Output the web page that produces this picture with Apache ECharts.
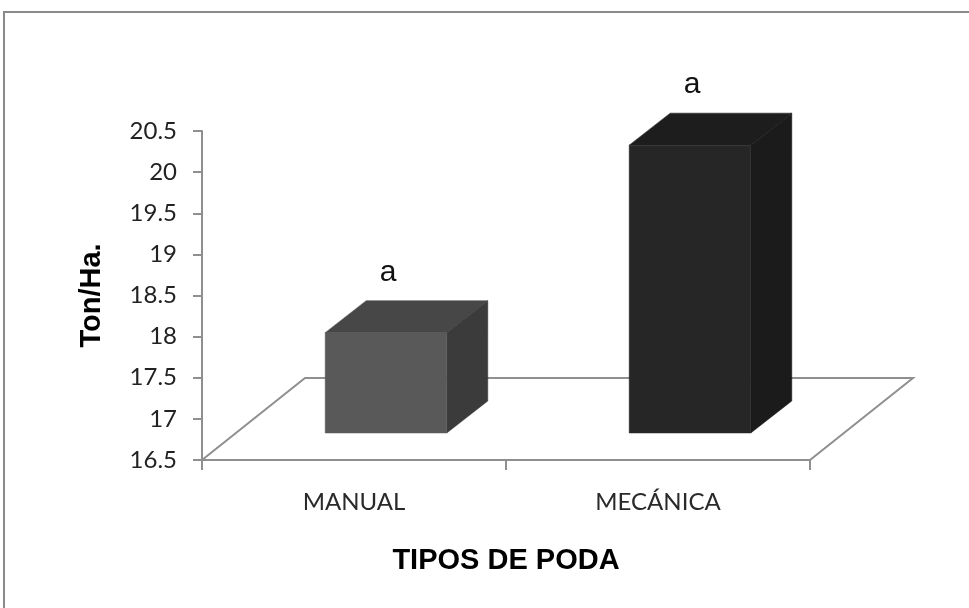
<!DOCTYPE html>
<html>
<head>
<meta charset="utf-8">
<script src="https://cdn.jsdelivr.net/npm/echarts@6/dist/echarts.min.js"></script>
<style>
html,body{margin:0;padding:0;background:#fff;}
#c{width:969px;height:608px;}
</style>
</head>
<body>
<div id="c"></div>
<script>
// ---- data ----
var categories = ['MANUAL', 'MECÁNICA'];
var values = [17.72, 20.0];
var barLabels = ['a', 'a'];
var yMin = 16.5, yMax = 20.5, yStep = 0.5;
var xTitle = 'TIPOS DE PODA';
var yTitle = 'Ton/Ha.';

// ---- styles ----
var frontColors = ['#595959', '#262626'];
var topColors = ['#474747', '#1d1d1d'];
var sideColors = ['#3b3b3b', '#1b1b1b'];
var floorDepth = [103, -82];   // pixel offset of floor depth
var barFront = [32, -27];      // front face offset inside floor
var barDepth = [41, -32];      // bar depth
var barWidthRatio = 0.40;
var lineColor = '#8f8f8f';

var chart = echarts.init(document.getElementById('c'));

function floorItem(params, api) {
  var band = api.size([1, 0])[0];
  var p0 = api.coord([0, yMin]);
  var p1 = api.coord([categories.length - 1, yMin]);
  var xl = p0[0] - band / 2, xr = p1[0] + band / 2, y = p0[1];
  var dx = floorDepth[0], dy = floorDepth[1];
  var st = { stroke: lineColor, lineWidth: 2, fill: null };
  return {
    type: 'group',
    children: [
      { type: 'polyline', shape: { points: [[xl, y], [xl + dx, y + dy], [xr + dx, y + dy], [xr, y]] }, style: st }
    ]
  };
}

function barItem(params, api) {
  var i = api.value(0);
  var v = api.value(1);
  var band = api.size([1, 0])[0];
  var base = api.coord([i, yMin]);
  var top = api.coord([i, v]);
  var w = band * barWidthRatio;
  var x0 = base[0] - w / 2 + barFront[0];
  var x1 = x0 + w;
  var yb = base[1] + barFront[1];
  var yt = top[1] + barFront[1];
  var dx = barDepth[0], dy = barDepth[1];
  var idx = params.dataIndex;
  return {
    type: 'group',
    children: [
      { type: 'polygon', shape: { points: [[x0, yt], [x1, yt], [x1 + dx, yt + dy], [x0 + dx, yt + dy]] },
        style: { fill: topColors[idx], stroke: topColors[idx], lineWidth: 0.5 } },
      { type: 'polygon', shape: { points: [[x1, yt], [x1 + dx, yt + dy], [x1 + dx, yb + dy], [x1, yb]] },
        style: { fill: sideColors[idx], stroke: sideColors[idx], lineWidth: 0.5 } },
      { type: 'rect', shape: { x: x0, y: yt, width: w, height: yb - yt },
        style: { fill: frontColors[idx], stroke: frontColors[idx], lineWidth: 0.5 } },
      { type: 'text', x: (x0 + x1) / 2 + 2, y: yt + dy - 28,
        style: { text: barLabels[idx], fill: '#111', font: '30px "Liberation Sans", Arial', align: 'center', verticalAlign: 'middle' } }
    ]
  };
}

var option = {
  animation: false,
  backgroundColor: '#fff',
  graphic: [
    { type: 'rect', shape: { x: 4, y: 12, width: 1100, height: 800 }, style: { fill: null, stroke: '#8a8a8a', lineWidth: 2 }, z: -1 }
  ],
  grid: { left: 202, right: 159, top: 131, bottom: 148, containLabel: false },
  xAxis: {
    type: 'category',
    data: categories,
    boundaryGap: true,
    axisLine: { lineStyle: { color: lineColor, width: 2 } },
    axisTick: { show: true, length: 10, lineStyle: { color: lineColor, width: 2 } },
    axisLabel: { margin: 30, color: '#2a2a2a', fontSize: 24, fontFamily: 'Lato, "Open Sans", sans-serif' },
    name: xTitle,
    nameLocation: 'middle',
    nameGap: 86,
    nameTextStyle: { color: '#000', fontSize: 29, fontWeight: 'bold', fontFamily: '"Liberation Sans", Arial' },
    splitLine: { show: false }
  },
  yAxis: {
    type: 'value',
    min: yMin, max: yMax, interval: yStep,
    axisLine: { show: true, lineStyle: { color: lineColor, width: 2 } },
    axisTick: { show: true, length: 9, lineStyle: { color: lineColor, width: 2 } },
    axisLabel: { margin: 25, color: '#222', fontSize: 24, fontFamily: 'Lato, "Open Sans", sans-serif' },
    splitLine: { show: false },
    name: yTitle,
    nameLocation: 'middle',
    nameGap: 96,
    nameRotate: 90,
    nameTextStyle: { color: '#000', fontSize: 29, fontWeight: 'bold', fontFamily: '"Liberation Sans", Arial' }
  },
  series: [
    { type: 'custom', renderItem: floorItem, data: [[0, yMin]], silent: true, clip: false },
    { type: 'custom', renderItem: barItem, data: values.map(function (v, i) { return [i, v]; }), clip: false }
  ]
};
chart.setOption(option);
</script>
</body>
</html>
